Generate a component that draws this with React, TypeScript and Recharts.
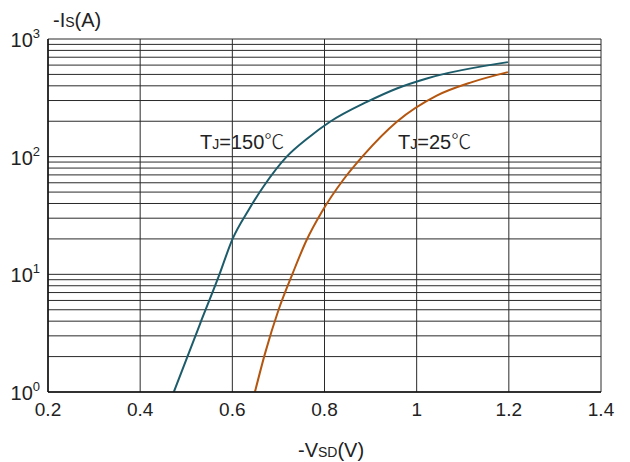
import { LineChart, Line, XAxis, YAxis, CartesianGrid } from "recharts";

// -Vsd (V) vs -Is (A)
const T150_V = [0.473, 0.53, 0.57, 0.601, 0.635, 0.668, 0.718, 0.765, 0.812, 0.892, 0.957, 1.022, 1.198];
const T150_I = [1, 3.8, 9.5, 20.2, 35.1, 56, 100, 145, 198, 292, 380, 462, 636];
const T25_V = [0.649, 0.671, 0.7, 0.731, 0.761, 0.794, 0.84, 0.884, 0.957, 1.0435, 1.12, 1.198];
const T25_I = [1, 2.13, 4.95, 10.2, 19.5, 33.9, 63, 102, 198, 330, 430, 523];

const X_TICKS = [0.2, 0.4, 0.6, 0.8, 1, 1.2, 1.4];
const DECADES = [1, 10, 100, 1000];
const MINORS = [2, 3, 4, 5, 6, 7, 8, 9];
const Y_TICKS = [
  ...DECADES.slice(0, 3).flatMap((d) => [d, ...MINORS.map((m) => m * d)]),
  1000,
];

const t150 = T150_V.map((v, i) => ({ v, i: T150_I[i] }));
const t25 = T25_V.map((v, i) => ({ v, i: T25_I[i] }));

const TEAL = "#1d5c6b";
const RUST = "#b4560f";
const INK = "#222";
const FONT = "'Liberation Sans', Arial, sans-serif";
const CJK = "'Noto Sans CJK SC', sans-serif";

function YTick({ x, y, payload }: any) {
  const val = payload.value;
  const exp = Math.round(Math.log10(val));
  if (Math.abs(Math.pow(10, exp) - val) > 1e-6) return <g />;
  return (
    <text x={x} y={y + 8} textAnchor="end" fill={INK} fontFamily={FONT} fontSize={20}>
      10
      <tspan dy={-9} fontSize={13}>{exp}</tspan>
    </text>
  );
}

function XTick({ x, y, payload }: any) {
  return (
    <text x={x} y={y + 16} textAnchor="middle" fill={INK} fontFamily={FONT} fontSize={19}>
      {payload.value}
    </text>
  );
}

export default function App() {
  return (
    <div style={{ position: "absolute", left: 0, top: 0, width: 630, height: 462, background: "#fff" }}>
      <LineChart width={630} height={462} margin={{ top: 39, right: 29, bottom: 0, left: 0 }}>
        <CartesianGrid stroke="#2a2a2a" strokeWidth={1} />
        <XAxis
          type="number"
          dataKey="v"
          domain={[0.2, 1.4]}
          ticks={X_TICKS}
          interval={0}
          height={70}
          tickLine={false}
          axisLine={{ stroke: "#111", strokeWidth: 1.5 }}
          tick={<XTick />}
          allowDataOverflow
        />
        <YAxis
          type="number"
          dataKey="i"
          scale="log"
          domain={[1, 1000]}
          ticks={Y_TICKS}
          interval={0}
          width={48}
          tickLine={false}
          axisLine={{ stroke: "#111", strokeWidth: 1.5 }}
          tick={<YTick />}
          allowDataOverflow
        />
        <Line data={t150} dataKey="i" type="monotone" stroke={TEAL} strokeWidth={2} dot={false} isAnimationActive={false} />
        <Line data={t25} dataKey="i" type="monotone" stroke={RUST} strokeWidth={2} dot={false} isAnimationActive={false} />
      </LineChart>
      <svg width={630} height={462} style={{ position: "absolute", left: 0, top: 0, pointerEvents: "none" }}>
        <g fill={INK} fontFamily={FONT}>
          <text x={53} y={27} fontSize={20}>
            -I<tspan fontSize={14}>S</tspan>(A)
          </text>
          <text x={298} y={457} fontSize={20}>
            -V<tspan fontSize={14}>SD</tspan>(V)
          </text>
          <text x={200} y={149} fontSize={20}>
            T<tspan fontSize={14}>J</tspan>=150<tspan fontFamily={CJK} fontWeight={300}>℃</tspan>
          </text>
          <text x={398} y={149} fontSize={20}>
            T<tspan fontSize={14}>J</tspan>=25<tspan fontFamily={CJK} fontWeight={300}>℃</tspan>
          </text>
        </g>
      </svg>
    </div>
  );
}
